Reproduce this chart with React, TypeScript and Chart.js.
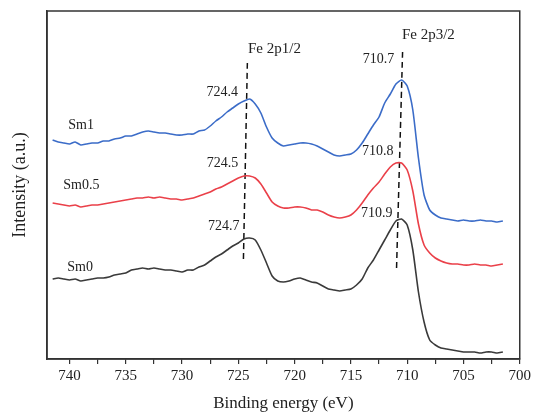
import React, { useEffect, useRef } from "react";
import { Chart, registerables } from "chart.js";

Chart.register(...registerables);

// Binding energy sample positions (eV)
const energies = [
  741.5, 741.0, 740.5, 740.0, 739.5, 739.0, 738.5, 738.0, 737.5, 737.0,
  736.5, 736.0, 735.5, 735.0, 734.5, 734.0, 733.5, 733.0, 732.5, 732.0,
  731.5, 731.0, 730.5, 730.0, 729.5, 729.0, 728.5, 728.0, 727.5, 727.0,
  726.5, 726.0, 725.5, 725.0, 724.5, 724.0, 723.5, 723.0, 722.5, 722.0,
  721.5, 721.0, 720.5, 720.0, 719.5, 719.0, 718.5, 718.0, 717.5, 717.0,
  716.5, 716.0, 715.5, 715.0, 714.5, 714.0, 713.5, 713.0, 712.5, 712.0,
  711.5, 711.0, 710.5, 710.0, 709.5, 709.0, 708.5, 708.0, 707.5, 707.0,
  706.5, 706.0, 705.5, 705.0, 704.5, 704.0, 703.5, 703.0, 702.5, 702.0, 701.5,
];

// Intensities (a.u., stacked offsets included)
const sm1 = [
  219, 217, 216, 215, 217, 214, 215, 216, 216, 218,
  218, 220, 221, 223, 223, 225, 227, 228, 227, 226,
  226, 225, 224, 224, 225, 225, 228, 229, 233, 238,
  242, 247, 251, 255, 258, 260, 255, 246, 232, 221,
  216, 213, 214, 215, 216, 216, 215, 213, 210, 207,
  204, 203, 204, 205, 209, 216, 225, 234, 242, 256,
  265, 275, 279, 273, 249, 201, 164, 149, 144, 141,
  140, 139, 138, 139, 138, 138, 139, 138, 138, 137, 138,
];
const sm05 = [
  156, 155, 154, 153, 154, 152, 153, 154, 154, 155,
  156, 157, 158, 159, 160, 161, 161, 162, 161, 162,
  161, 160, 160, 159, 160, 161, 163, 165, 167, 170,
  172, 175, 178, 181, 183, 183, 181, 175, 166, 157,
  153, 151, 151, 152, 152, 151, 149, 149, 147, 144,
  142, 141, 142, 144, 149, 156, 164, 171, 177, 185,
  192, 196, 196, 189, 168, 135, 114, 106, 101, 98,
  96, 95, 95, 94, 94, 95, 94, 94, 93, 94, 95,
];
const sm0 = [
  80, 81, 80, 79, 80, 78, 79, 80, 81, 81,
  82, 84, 85, 86, 89, 90, 91, 90, 91, 90,
  89, 89, 88, 87, 89, 89, 92, 94, 98, 102,
  105, 109, 113, 116, 120, 121, 119, 109, 96, 83,
  78, 77, 78, 80, 81, 79, 77, 76, 73, 70,
  69, 68, 69, 70, 74, 80, 91, 99, 109, 119,
  129, 138, 140, 134, 109, 67, 37, 19, 14, 11,
  10, 9, 8, 7, 7, 7, 6, 7, 7, 6, 7,
];

// Reference dashed lines (end points in data units)
const dash1X = [724.2, 724.55];
const dash1Y = [296, 99];
const dash2X = [710.41, 710.95];
const dash2Y = [307, 89];

// Annotations
const annotTexts = ["Fe 2p1/2", "Fe 2p3/2", "724.4", "724.5", "724.7", "710.7", "710.8", "710.9", "Sm1", "Sm0.5", "Sm0"];
const annotX = [724.14, 710.47, 725.03, 725.0, 724.9, 711.15, 711.21, 711.3, 740.11, 740.56, 740.2];
const annotY = [310, 324, 267, 196, 133, 300, 208, 146, 234, 174, 92];

const xTitle = "Binding energy (eV)";
const yTitle = "Intensity (a.u.)";

const FONT = "'Liberation Serif', 'Times New Roman', serif";

export default function App() {
  const ref = useRef<HTMLCanvasElement | null>(null);

  useEffect(() => {
    if (!ref.current) return;
    const toPts = (ys: number[]) => energies.map((x, i) => ({ x, y: ys[i] }));
    const framePlugin = {
      id: "frameAndLabels",
      afterDatasetsDraw(chart: any) {
        const { ctx, chartArea, scales } = chart;
        ctx.save();
        ctx.fillStyle = "#222";
        ctx.textBaseline = "middle";
        annotTexts.forEach((t, i) => {
          const isNum = /^\d/.test(t);
          const isFe = t.startsWith("Fe");
          ctx.font = `${isFe ? 15 : 14}px ${FONT}`;
          ctx.textAlign = isNum ? "right" : "left";
          ctx.fillText(t, scales.x.getPixelForValue(annotX[i]), scales.y.getPixelForValue(annotY[i]));
        });
        ctx.strokeStyle = "#333";
        ctx.lineWidth = 1.5;
        ctx.strokeRect(chartArea.left, chartArea.top, chartArea.right - chartArea.left, chartArea.bottom - chartArea.top);
        ctx.restore();
      },
    };

    const chart = new Chart(ref.current, {
      type: "line",
      data: {
        datasets: [
          { label: "Sm0", data: toPts(sm0), borderColor: "#3a3a3a", borderWidth: 1.6 },
          { label: "Sm0.5", data: toPts(sm05), borderColor: "#ea4049", borderWidth: 1.6 },
          { label: "Sm1", data: toPts(sm1), borderColor: "#3b6cc8", borderWidth: 1.6 },
          {
            label: "d1",
            data: dash1X.map((x, i) => ({ x, y: dash1Y[i] })),
            borderColor: "#111",
            borderWidth: 1.5,
            borderDash: [6, 4],
          },
          {
            label: "d2",
            data: dash2X.map((x, i) => ({ x, y: dash2Y[i] })),
            borderColor: "#111",
            borderWidth: 1.5,
            borderDash: [6, 4],
          },
        ],
      },
      options: {
        animation: false,
        responsive: false,
        maintainAspectRatio: false,
        layout: { padding: { top: 11, right: 13, left: 0, bottom: 0 } },
        elements: { point: { radius: 0 }, line: { tension: 0.2, fill: false } },
        plugins: { legend: { display: false }, tooltip: { enabled: false } },
        scales: {
          x: {
            type: "linear",
            reverse: true,
            min: 700,
            max: 742,
            afterFit: (s: any) => {
              s.height = 55;
            },
            ticks: {
              stepSize: 2.5,
              includeBounds: false,
              autoSkip: false,
              maxRotation: 0,
              minRotation: 0,
              padding: 3,
              color: "#222",
              font: { family: FONT, size: 15 },
              callback: (v: any) => (Number(v) % 5 === 0 ? String(v) : ""),
            },
            grid: { display: true, drawOnChartArea: false, drawTicks: true, tickLength: 5, color: "#333", lineWidth: 1.2 },
            border: { display: true, color: "#333", width: 1.5 },
            title: { display: true, text: xTitle, color: "#222", font: { family: FONT, size: 17 }, padding: 0 },
          },
          y: {
            type: "linear",
            min: 0,
            max: 348,
            afterFit: (s: any) => {
              s.width = 47;
            },
            ticks: { display: false },
            grid: { display: true, drawOnChartArea: false, drawTicks: false },
            border: { display: true, color: "#333", width: 1.5 },
            title: { display: true, text: yTitle, color: "#222", font: { family: FONT, size: 18 }, padding: { top: 9, bottom: 0 } },
          },
        },
      } as any,
      plugins: [framePlugin],
    });
    return () => chart.destroy();
  }, []);

  return (
    <div style={{ position: "fixed", left: 0, top: 0, width: 534, height: 414, background: "#fff" }}>
      <canvas ref={ref} width={534} height={414} style={{ display: "block" }} />
    </div>
  );
}
